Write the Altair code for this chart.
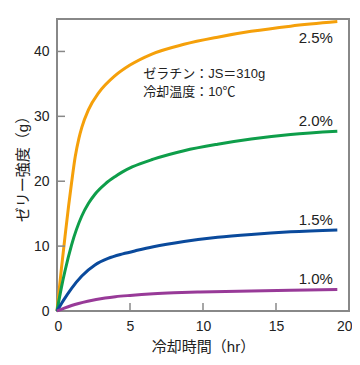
import altair as alt
import pandas as pd

# ---- data ----
series_names = ["2.5%", "2.0%", "1.5%", "1.0%"]
series_colors = ["#F5A00A", "#0E9E4A", "#0A4A9C", "#983A98"]

x_25 = [0, 0.3, 0.55, 0.8, 1.0, 1.25, 1.5, 1.7, 2.15, 2.85, 4.0, 5.0, 6.5, 8.7, 11.0, 13.3, 16.0, 19.2]
y_25 = [0, 6.5, 11.5, 16.3, 19.8, 23.8, 26.6, 28.3, 31.0, 33.6, 36.3, 37.9, 39.6, 41.1, 42.2, 43.1, 43.9, 44.6]

x_20 = [0, 0.3, 0.55, 1.0, 1.69, 2.16, 2.6, 3.31, 3.97, 4.46, 5.15, 6.6, 8.7, 11.0, 13.3, 16.0, 19.2]
y_20 = [0, 3.6, 6.2, 10.2, 14.6, 16.6, 18.0, 19.6, 20.7, 21.4, 22.2, 23.4, 24.7, 25.7, 26.5, 27.2, 27.7]

x_15 = [0, 0.43, 1.0, 1.7, 2.6, 3.5, 4.5, 5.5, 6.6, 8.7, 11.0, 13.3, 16.0, 19.2]
y_15 = [0, 1.6, 3.5, 5.4, 7.1, 8.1, 8.8, 9.35, 9.9, 10.7, 11.35, 11.8, 12.2, 12.5]

x_10 = [0, 0.5, 1.0, 2.1, 3.3, 4.0, 5.0, 6.6, 8.0, 9.8, 13.3, 16.0, 19.2]
y_10 = [0, 0.45, 0.85, 1.5, 2.0, 2.2, 2.4, 2.65, 2.8, 2.93, 3.1, 3.2, 3.3]

label_x = [18.9, 18.9, 18.9, 18.9]
label_y = [42.0, 29.3, 14.1, 4.9]

note_lines = ["ゼラチン：JS＝310g", "冷却温度：10℃"]
note_x = [5.9, 5.9]
note_y = [36.6, 33.7]

x_ticks = [0, 5, 10, 15, 20]
y_ticks = [0, 10, 20, 30, 40]

# ---- tables ----
rows = []
for name, xs, ys in zip(series_names, [x_25, x_20, x_15, x_10], [y_25, y_20, y_15, y_10]):
    for i, (a, b) in enumerate(zip(xs, ys)):
        rows.append({"series": name, "x": a, "y": b, "order": i})
curves = pd.DataFrame(rows)
labels = pd.DataFrame({"series": series_names, "x": label_x, "y": label_y})
notes = pd.DataFrame({"text": note_lines, "x": note_x, "y": note_y})
xt = pd.DataFrame({"x": x_ticks[1:-1]})
yt = pd.DataFrame({"y": y_ticks[1:]})

FONT = "Liberation Sans, Noto Sans CJK JP, sans-serif"
W, H = 292, 292
GRAY = "#888888"

xscale = alt.Scale(domain=[0, 20], nice=False, zero=True)
yscale = alt.Scale(domain=[0, 45], nice=False, zero=True)

xaxis = alt.Axis(values=x_ticks, tickSize=0, domain=False, grid=False,
                 labelFontSize=14, labelPadding=8, labelColor="#222",
                 labelFlush=True, labelFlushOffset=3, labelOverlap=False,
                 labelFont=FONT, title="冷却時間（hr）", titleFont=FONT,
                 titleFontSize=15, titleFontWeight="normal", titleColor="#222",
                 titlePadding=6)
yaxis = alt.Axis(values=y_ticks, tickSize=0, domain=False, grid=False,
                 labelFontSize=14, labelPadding=8, labelColor="#222",
                 labelFlush=False, labelOverlap=False,
                 labelFont=FONT, title="ゼリー強度（g）", titleFont=FONT,
                 titleFontSize=15, titleFontWeight="normal", titleColor="#222",
                 titlePadding=3)

X = alt.X("x:Q", scale=xscale, axis=xaxis)
Y = alt.Y("y:Q", scale=yscale, axis=yaxis)

lines = alt.Chart(curves).mark_line(strokeWidth=3, interpolate="monotone").encode(
    x=X, y=Y,
    color=alt.Color("series:N", scale=alt.Scale(domain=series_names, range=series_colors), legend=None),
    order="order:Q",
)

lab = alt.Chart(labels).mark_text(align="right", baseline="middle", fontSize=15,
                                  font=FONT, color="#222").encode(
    x=X, y=Y, text="series:N",
)

note = alt.Chart(notes).mark_text(align="left", baseline="middle", fontSize=13,
                                  font=FONT, color="#222").encode(
    x=X, y=Y, text="text:N",
)

xtick = alt.Chart(xt).mark_rule(color=GRAY, strokeWidth=1.5).encode(
    x=X,
    y=alt.value(H),
    y2=alt.value(H - 8),
)
ytick = alt.Chart(yt).mark_rule(color=GRAY, strokeWidth=1.5).encode(
    y=Y,
    x=alt.value(0),
    x2=alt.value(8),
)

chart = alt.layer(lines, lab, note, xtick, ytick).properties(
    width=W, height=H,
    background="white",
    autosize=alt.AutoSizeParams(type="none"),
    padding={"left": 49, "top": 11, "right": 3, "bottom": 45},
).configure_view(stroke=GRAY, strokeWidth=2)

chart.save("out.html", embed_options={"renderer": "svg", "actions": False})
